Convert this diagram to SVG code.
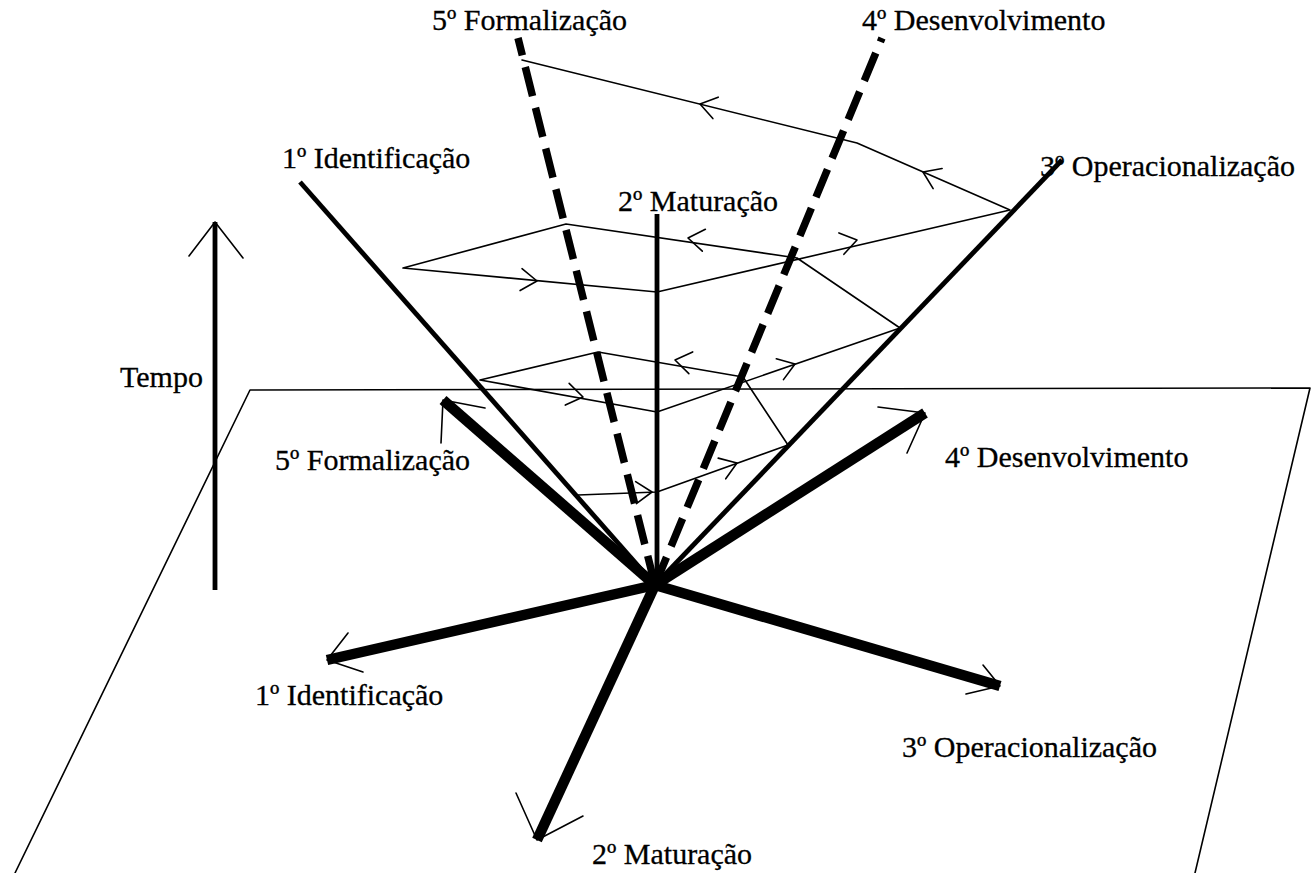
<svg xmlns="http://www.w3.org/2000/svg" xmlns:xlink="http://www.w3.org/1999/xlink" width="1316" height="873" viewBox="0 0 1316 873">
  <style>
    text { font-family: "Liberation Serif", "Times New Roman", serif; font-size: 30px; fill: #000; stroke: #000; stroke-width: 0.3; }
    .thin { fill: none; stroke: #000; stroke-width: 1.6; stroke-linecap: round; stroke-linejoin: round; }
    .ground { fill: none; stroke: #000; stroke-width: 10.5; stroke-linecap: butt; }
    .axis { fill: none; stroke: #000; stroke-width: 4.8; }
    .dashed { fill: none; stroke: #000; stroke-width: 7.5; stroke-dasharray: 30 12; }
  </style>
  <defs>
    <path id="chev" d="M-16,-11 L0,0 L-16,11" class="thin"/>
  </defs>
  <rect width="1316" height="873" fill="#fff"/>

  <!-- ground plane -->
  <g id="plane">
    <polyline class="thin" points="15,873 250,390 1310,388 1195,873"/>
  </g>

  <!-- time axis -->
  <g id="tempo">
    <line class="axis" x1="215" y1="590" x2="215" y2="222"/>
    <polyline class="thin" points="189,256 215,222 243,258"/>
    <text x="120" y="387">Tempo</text>
  </g>

  <!-- phase 1 -->
  <g id="fase1">
    <line class="ground" x1="655" y1="585" x2="327" y2="660"/>
    <polyline class="thin" points="348,633 327,660 363,672"/>
    <line class="axis" x1="655" y1="585" x2="300" y2="182"/>
    <text x="282" y="168">1º Identificação</text>
    <text x="255" y="705">1º Identificação</text>
  </g>

  <!-- phase 2 -->
  <g id="fase2">
    <line class="ground" x1="655" y1="585" x2="537" y2="840"/>
    <polyline class="thin" points="516,793 537,840 583,816"/>
    <line class="axis" x1="657" y1="585" x2="657" y2="214"/>
    <text x="618" y="211">2º Maturação</text>
    <text x="592" y="864">2º Maturação</text>
  </g>

  <!-- phase 3 -->
  <g id="fase3">
    <line class="ground" x1="655" y1="585" x2="1000" y2="686"/>
    <polyline class="thin" points="983,665 1000,686 966,694"/>
    <line class="axis" x1="655" y1="585" x2="1062" y2="160"/>
    <text x="1040" y="176">3º Operacionalização</text>
    <text x="902" y="757">3º Operacionalização</text>
  </g>

  <!-- phase 4 -->
  <g id="fase4">
    <line class="ground" x1="655" y1="585" x2="925" y2="413"/>
    <polyline class="thin" points="878,407 925,413 907,453"/>
    <line class="dashed" x1="655" y1="585" x2="882" y2="38"/>
    <text x="862" y="30">4º Desenvolvimento</text>
    <text x="945" y="467">4º Desenvolvimento</text>
  </g>

  <!-- phase 5 -->
  <g id="fase5">
    <line class="ground" x1="655" y1="585" x2="443" y2="400"/>
    <polyline class="thin" points="441,443 443,400 485,408"/>
    <line class="dashed" x1="655" y1="585" x2="518" y2="38"/>
    <text x="432" y="30">5º Formalização</text>
    <text x="275" y="470">5º Formalização</text>
  </g>

  <!-- spiral path through the phases -->
  <g id="connectors">
    <polyline class="thin" points="578,495 657,492 788,445 743,377 598,352 480,380 657,412 900,328 797,258 566,224 403,268 657,292 1010,210 857,143 522,60"/>
    <use xlink:href="#chev" transform="translate(652,492) rotate(-2)"/>
    <use xlink:href="#chev" transform="translate(737,463) rotate(-20)"/>
    <use xlink:href="#chev" transform="translate(675,360) rotate(-170)"/>
    <use xlink:href="#chev" transform="translate(583,397) rotate(10)"/>
    <use xlink:href="#chev" transform="translate(795,364) rotate(-19)"/>
    <use xlink:href="#chev" transform="translate(688,238) rotate(-172)"/>
    <use xlink:href="#chev" transform="translate(537,281) rotate(5)"/>
    <use xlink:href="#chev" transform="translate(857,240) rotate(-13)"/>
    <use xlink:href="#chev" transform="translate(923,172) rotate(-156)"/>
    <use xlink:href="#chev" transform="translate(700,104) rotate(-166)"/>
  </g>
</svg>
